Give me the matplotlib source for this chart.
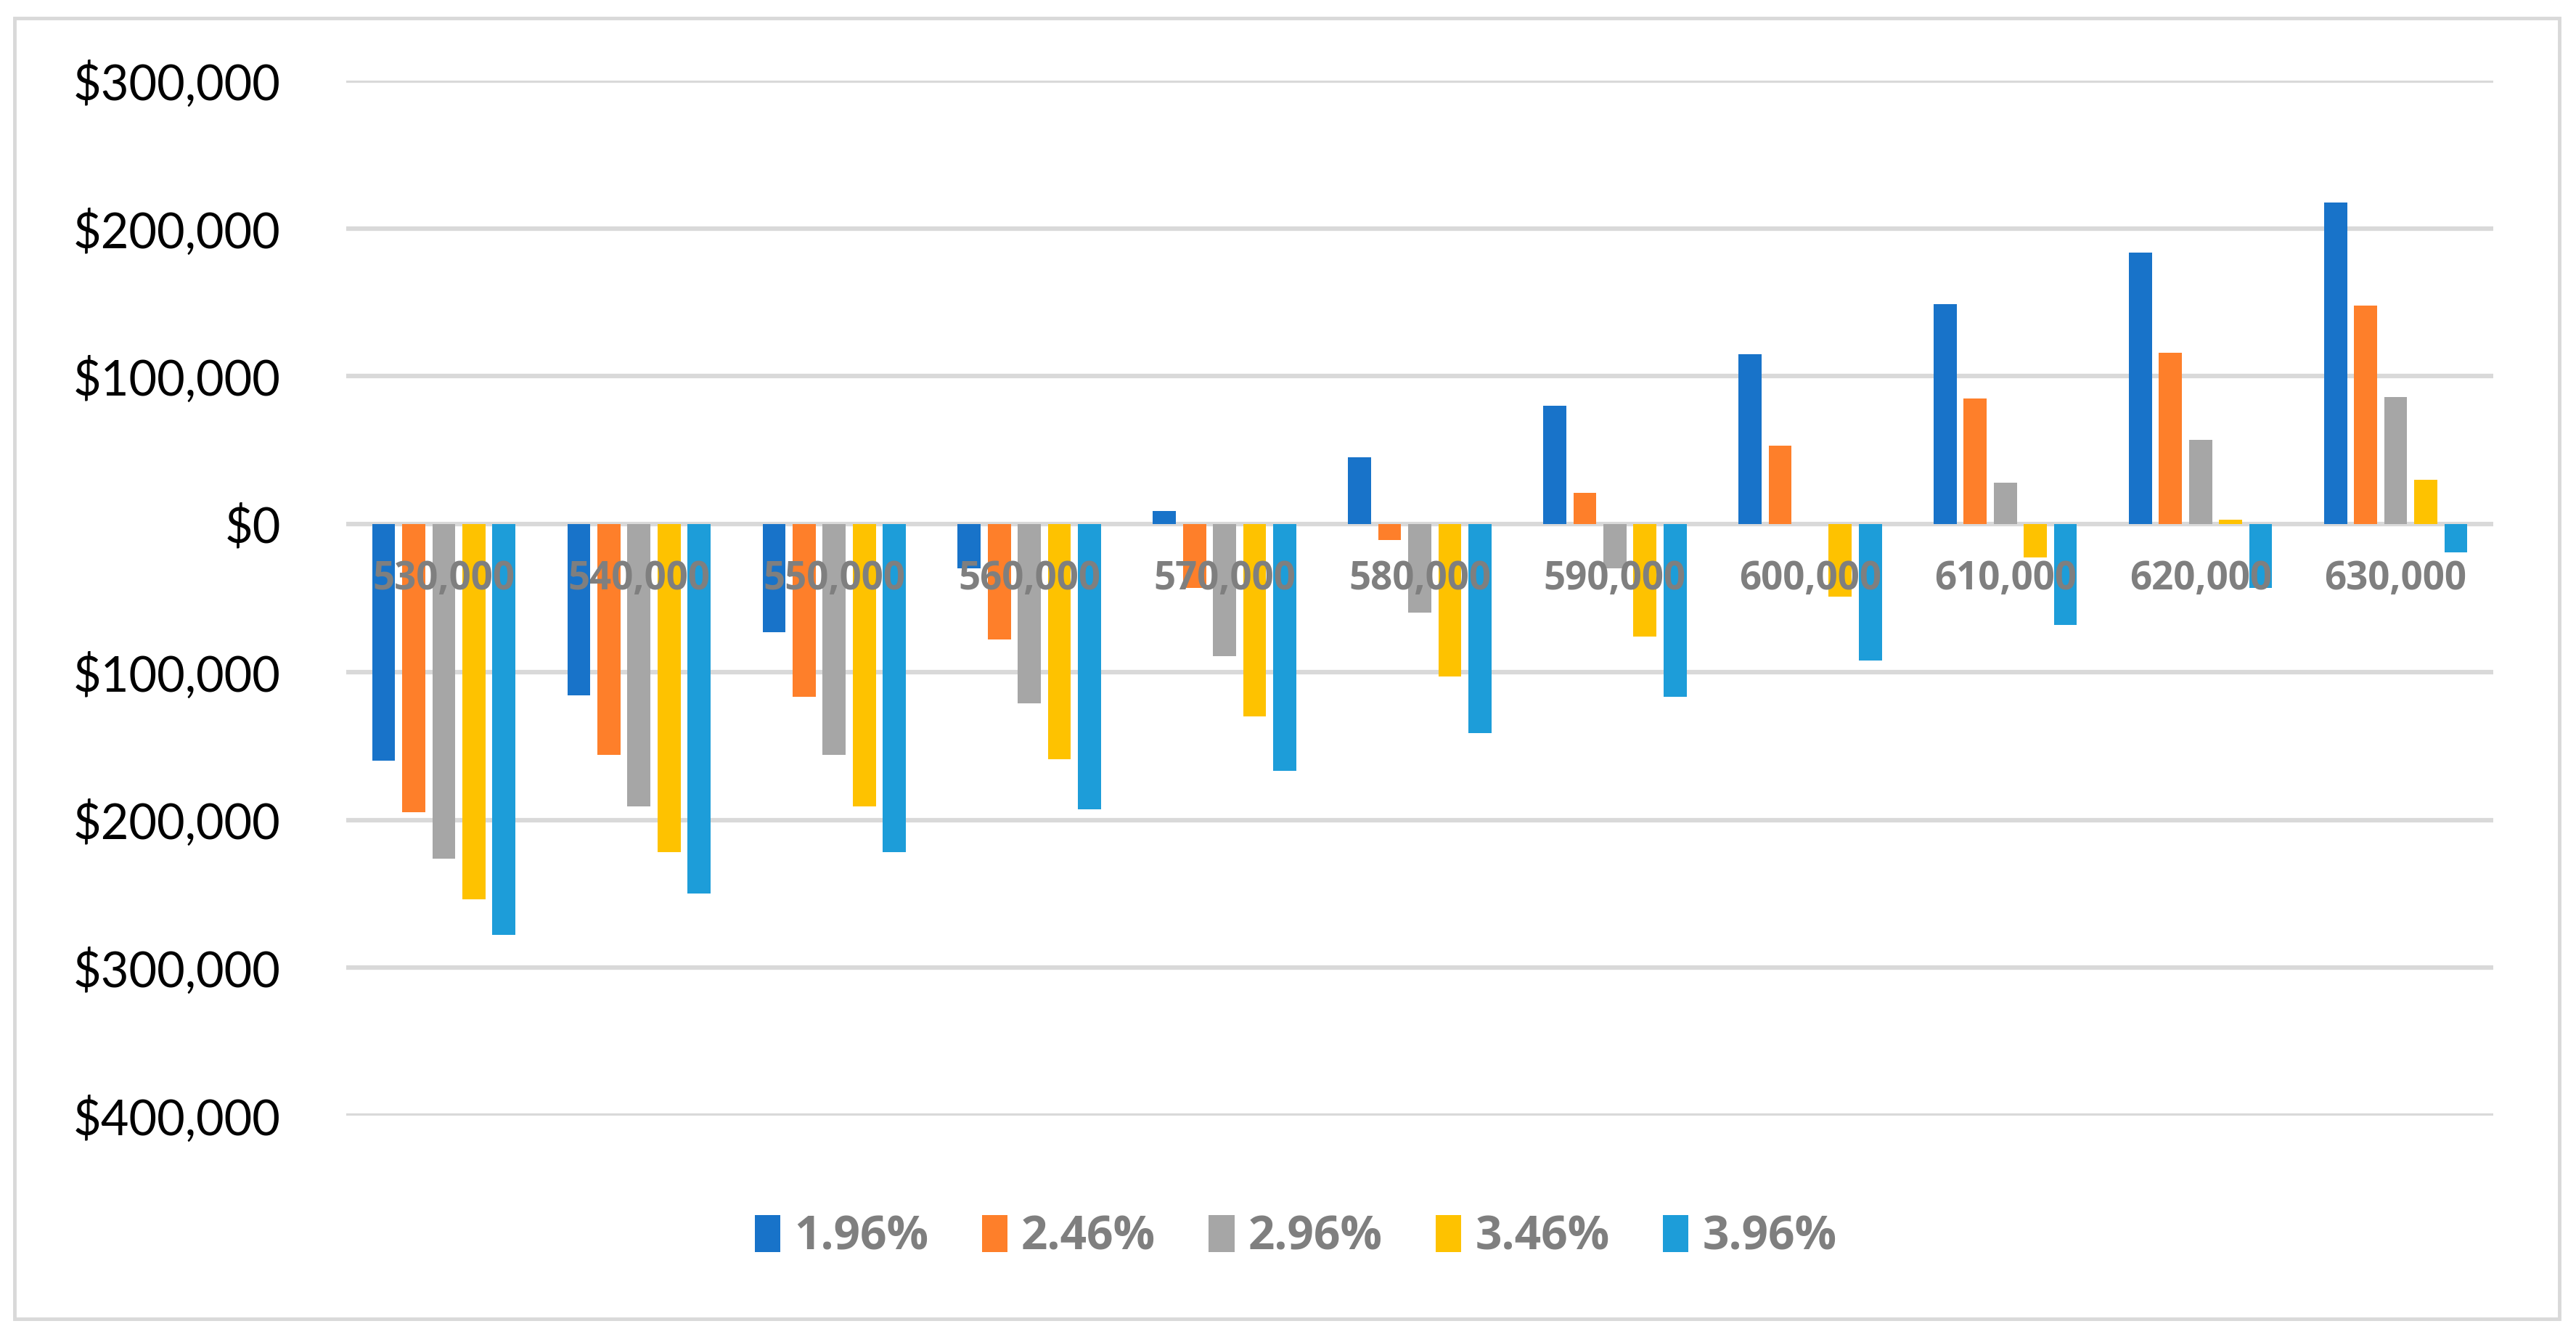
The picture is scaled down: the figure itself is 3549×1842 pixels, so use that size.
import matplotlib
matplotlib.use("Agg")
import matplotlib.pyplot as plt
from matplotlib.patches import Rectangle
import numpy as np

categories = ["530,000", "540,000", "550,000", "560,000", "570,000", "580,000",
              "590,000", "600,000", "610,000", "620,000", "630,000"]
series_names = ["1.96%", "2.46%", "2.96%", "3.46%", "3.96%"]
s196 = [-160000, -116000, -73000, -30000, 9000, 45000, 80000, 115000, 149000, 183500, 217500]
s246 = [-195000, -156000, -117000, -78000, -43000, -10500, 21000, 53000, 85000, 116000, 148000]
s296 = [-226000, -191000, -156000, -121000, -89500, -60000, -30000, 0, 28000, 57000, 86000]
s346 = [-253500, -222000, -191000, -159000, -130000, -103000, -76000, -49000, -22500, 3000, 30000]
s396 = [-278000, -250000, -222000, -193000, -167000, -141500, -117000, -92000, -68000, -43000, -19000]
series = [s196, s246, s296, s346, s396]
colors = ["#1873C9", "#FE7F2A", "#A6A6A6", "#FEC200", "#1D9DD9"]
yticks = [300000, 200000, 100000, 0, -100000, -200000, -300000, -400000]

FONT = "Lato"
BFONT = "Open Sans"
W, H, DPI = 3549, 1842, 100
fig = plt.figure(figsize=(W / DPI, H / DPI), dpi=DPI)
fig.patch.set_facecolor("white")

# outer border
fig.patches.append(Rectangle((20 / W, 25 / H), (3526 - 20) / W, (1817 - 25) / H,
                             transform=fig.transFigure, fill=False,
                             edgecolor="#D9D9D9", linewidth=3.5))

ax = fig.add_axes([477 / W, 1 - 1537 / H, (3435 - 477) / W, (1537 - 111) / H])
ax.set_facecolor("white")

x = np.arange(len(categories))
pitch = 0.154
width = 0.118
handles = []
for k, (vals, c, name) in enumerate(zip(series, colors, series_names)):
    off = (k - 2) * pitch
    b = ax.bar(x + off, vals, width=width, color=c, label=name, zorder=3)
    handles.append(b)

ax.set_xlim(-0.5, len(categories) - 0.5)
ax.set_ylim(-400000, 300000)
ax.set_yticks(yticks)
ax.set_yticklabels(["${:,.0f}".format(abs(v)) for v in yticks],
                   fontsize=48, family=FONT, color="black")
ax.tick_params(axis="y", length=0, pad=65)
ax.set_xticks([])
for sp in ax.spines.values():
    sp.set_visible(False)
ax.yaxis.grid(True, color="#D9D9D9", linewidth=4.5, zorder=0)
ax.set_axisbelow(True)

for i, lab in enumerate(categories):
    ax.text(i, -37000, lab, ha="center", va="center", fontsize=38,
            fontweight="bold", family=BFONT, color="#7F7F7F", zorder=5)

leg = fig.legend(handles=handles, labels=series_names, loc="center",
                 bbox_to_anchor=(0.503, 1 - 1705 / H), ncol=5, frameon=False,
                 prop={"family": BFONT, "size": 46, "weight": "bold"},
                 handlelength=0.55, handleheight=0.85, handletextpad=0.3,
                 columnspacing=1.15)
for t in leg.get_texts():
    t.set_color("#7F7F7F")

fig.savefig("out.png", dpi=DPI, facecolor="white")
